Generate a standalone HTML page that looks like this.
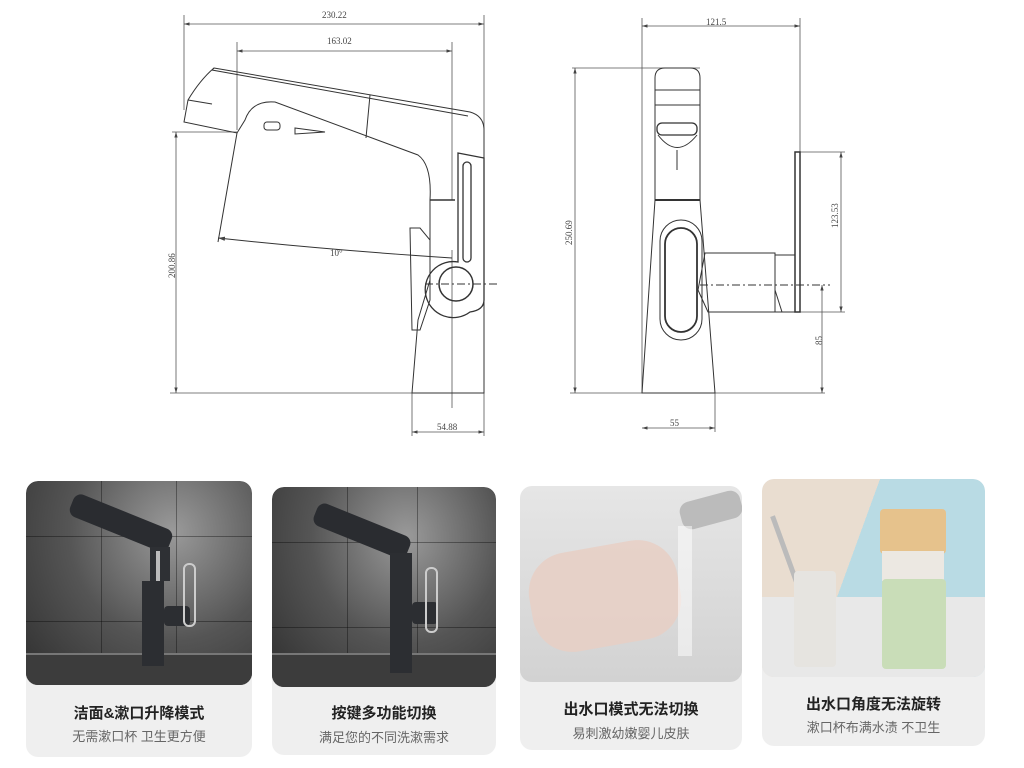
<!DOCTYPE html>
<html><head><meta charset="utf-8"><style>
html,body{margin:0;padding:0;background:#fff;width:1024px;height:768px;overflow:hidden;font-family:"Liberation Sans","Noto Sans CJK SC",sans-serif}
.card{position:absolute;background:#efefef;border-radius:12px;overflow:hidden}
.ph{position:absolute;left:0;top:0;right:0;border-radius:12px;overflow:hidden}
.t{position:absolute;left:0;right:0;text-align:center;font-weight:bold;font-size:15px;color:#222}
.s{position:absolute;left:0;right:0;text-align:center;font-size:13px;color:#666}
.tile{position:absolute;background:rgba(0,0,0,.35)}
</style></head><body>
<svg width="1024" height="460" style="position:absolute;left:0;top:0" fill="none" stroke="#333" stroke-width="1">
<defs><marker id="a" viewBox="0 0 10 10" refX="10" refY="5" markerWidth="7" markerHeight="7" orient="auto-start-reverse"><path d="M0 2 L10 5 L0 8Z" fill="#444" stroke="none"/></marker></defs>
<g font-family="Liberation Serif,serif" font-size="9" fill="#444" stroke="none">
<text x="322" y="18">230.22</text><text x="327" y="44">163.02</text>
<text x="706" y="25">121.5</text><text x="437" y="430">54.88</text><text x="670" y="426">55</text>
<text x="330" y="256">10°</text>
<text transform="translate(175,278) rotate(-90)">200.86</text>
<text transform="translate(572,245) rotate(-90)">250.69</text>
<text transform="translate(838,228) rotate(-90)">123.53</text>
<text transform="translate(822,345) rotate(-90)">85</text>
</g>
<g stroke="#555" stroke-width="0.8">
<line x1="184" y1="15" x2="184" y2="110"/><line x1="484" y1="15" x2="484" y2="130"/>
<line x1="184" y1="24" x2="484" y2="24" marker-start="url(#a)" marker-end="url(#a)"/>
<line x1="237" y1="42" x2="237" y2="130"/><line x1="452" y1="42" x2="452" y2="200"/>
<line x1="237" y1="51" x2="452" y2="51" marker-start="url(#a)" marker-end="url(#a)"/>
<line x1="172" y1="132" x2="237" y2="132"/><line x1="176" y1="132" x2="176" y2="393" marker-start="url(#a)" marker-end="url(#a)"/>
<line x1="170" y1="393" x2="484" y2="393"/>
<line x1="412" y1="393" x2="412" y2="436"/><line x1="484" y1="393" x2="484" y2="436"/>
<line x1="412" y1="432" x2="484" y2="432" marker-start="url(#a)" marker-end="url(#a)"/>
<line x1="452" y1="250" x2="452" y2="408"/>
<line x1="642" y1="18" x2="642" y2="393"/><line x1="800" y1="18" x2="800" y2="152"/>
<line x1="642" y1="26" x2="800" y2="26" marker-start="url(#a)" marker-end="url(#a)"/>
<line x1="572" y1="68" x2="700" y2="68"/><line x1="575" y1="68" x2="575" y2="393" marker-start="url(#a)" marker-end="url(#a)"/>
<line x1="570" y1="393" x2="825" y2="393"/>
<line x1="800" y1="152" x2="845" y2="152"/><line x1="800" y1="312" x2="845" y2="312"/>
<line x1="841" y1="152" x2="841" y2="312" marker-start="url(#a)" marker-end="url(#a)"/>
<line x1="822" y1="285" x2="822" y2="393" marker-start="url(#a)" marker-end="url(#a)"/>
<line x1="715" y1="393" x2="715" y2="432"/><line x1="642" y1="428" x2="715" y2="428" marker-start="url(#a)" marker-end="url(#a)"/>
</g>
<path d="M214 68 L470 112 Q484 116 484 130 L484 393 L412 393 L418 320 L430 280 L430 200 Q432 165 418 155 L275 102 Q252 100 245 120 L237 133 L184 122 L188 100 Q200 80 214 68Z"/>
<path d="M214 68 L212 70 L468 116"/><line x1="370" y1="95" x2="366" y2="138"/>
<line x1="188" y1="100" x2="212" y2="104"/><path d="M237 133 L218 242"/>
<path d="M218 238 Q330 250 452 258" marker-start="url(#a)"/>
<line x1="430" y1="200" x2="455" y2="200" stroke-width="1.5"/>
<path d="M458 153 L484 158 L484 300 Q484 310 470 312 A28 28 0 1 1 458 262 Z" stroke-width="1.3"/>
<circle cx="456" cy="284" r="17" stroke-width="1.5"/>
<rect x="463" y="162" width="8" height="100" rx="4" stroke-width="1.3"/>
<path d="M410 228 L420 228 L430 240 L430 300 L420 330 L412 330 Z"/>
<line x1="425" y1="284" x2="500" y2="284" stroke-dasharray="8,3,2,3"/>
<rect x="264" y="122" width="16" height="8" rx="3"/><path d="M295 128 L325 132 L295 134Z"/>
<path d="M655 78 Q655 68 665 68 L690 68 Q700 68 700 78 L700 200 L715 393 L642 393 L655 200 Z"/>
<line x1="655" y1="90" x2="700" y2="90"/><line x1="655" y1="105" x2="700" y2="105"/>
<line x1="655" y1="200" x2="700" y2="200" stroke-width="2"/>
<rect x="657" y="123" width="40" height="12" rx="5" stroke-width="1.3"/>
<path d="M658 135 Q677 160 697 135"/><line x1="677" y1="150" x2="677" y2="170"/>
<rect x="660" y="220" width="42" height="120" rx="21"/>
<rect x="665" y="228" width="32" height="104" rx="16" stroke-width="1.8"/>
<path d="M705 253 L775 253 L775 312 L708 312 L698 290 Z"/>
<rect x="775" y="255" width="20" height="57"/>
<path d="M775 290 L782 312"/>
<rect x="795" y="152" width="5" height="160" stroke-width="1.5"/>
<line x1="700" y1="285" x2="830" y2="285" stroke-dasharray="8,3,2,3"/>
</svg>

<div class="card" style="left:26px;top:481px;width:226px;height:276px">
<div class="ph" style="height:204px;background:radial-gradient(ellipse at 65% 25%,#9a9a9a,#555 50%,#2e2e2e);">
<div class="tile" style="left:75px;top:0;width:1px;height:180px"></div><div class="tile" style="left:0;top:55px;width:226px;height:1px"></div><div class="tile" style="left:0;top:140px;width:226px;height:1px"></div><div class="tile" style="left:150px;top:0;width:1px;height:180px"></div>
<div style="position:absolute;left:0;right:0;bottom:0;height:30px;background:#3c3c3c;border-top:2px solid #777"></div>
<div style="position:absolute;left:42px;top:30px;width:106px;height:24px;background:#2a2c30;transform:rotate(22deg);border-radius:8px"></div>
<div style="position:absolute;left:124px;top:66px;width:20px;height:34px;background:#2e3034"></div>
<div style="position:absolute;left:130px;top:70px;width:4px;height:32px;background:#bbb"></div>
<div style="position:absolute;left:116px;top:100px;width:22px;height:85px;background:#2c2e32"></div>
<div style="position:absolute;left:138px;top:125px;width:26px;height:20px;background:#2c2e32;border-radius:4px"></div>
<div style="position:absolute;left:157px;top:82px;width:9px;height:60px;border:2px solid #ccc;border-radius:6px"></div>
</div>
<div class="t" style="top:221px">洁面&amp;漱口升降模式</div>
<div class="s" style="top:245px">无需漱口杯 卫生更方便</div>
</div>
<div class="card" style="left:272px;top:487px;width:224px;height:268px">
<div class="ph" style="height:200px;background:radial-gradient(ellipse at 60% 25%,#9a9a9a,#555 50%,#2e2e2e);">
<div class="tile" style="left:75px;top:0;width:1px;height:170px"></div><div class="tile" style="left:0;top:55px;width:224px;height:1px"></div><div class="tile" style="left:0;top:140px;width:224px;height:1px"></div><div class="tile" style="left:145px;top:0;width:1px;height:170px"></div>
<div style="position:absolute;left:0;right:0;bottom:0;height:32px;background:#3c3c3c;border-top:2px solid #777"></div>
<div style="position:absolute;left:40px;top:32px;width:100px;height:24px;background:#2a2c30;transform:rotate(22deg);border-radius:8px"></div>
<div style="position:absolute;left:118px;top:66px;width:22px;height:120px;background:#2c2e32"></div>
<div style="position:absolute;left:140px;top:115px;width:26px;height:22px;background:#2c2e32;border-radius:4px"></div>
<div style="position:absolute;left:153px;top:80px;width:9px;height:62px;border:2px solid #ccc;border-radius:6px"></div>
</div>
<div class="t" style="top:215px">按键多功能切换</div>
<div class="s" style="top:240px">满足您的不同洗漱需求</div>
</div>
<div class="card" style="left:520px;top:486px;width:222px;height:264px">
<div class="ph" style="height:196px;background:linear-gradient(180deg,#e6e6e6,#d2d2d2);">
<div style="position:absolute;left:10px;top:60px;width:150px;height:100px;background:#e8cfc4;border-radius:40px;opacity:.85;transform:rotate(-10deg)"></div>
<div style="position:absolute;left:160px;top:10px;width:62px;height:28px;background:#bbb;border-radius:10px;transform:rotate(-15deg)"></div>
<div style="position:absolute;left:158px;top:40px;width:14px;height:130px;background:rgba(255,255,255,.5)"></div>
</div>
<div class="t" style="top:212px">出水口模式无法切换</div>
<div class="s" style="top:237px">易刺激幼嫩婴儿皮肤</div>
</div>
<div class="card" style="left:762px;top:479px;width:223px;height:267px">
<div class="ph" style="height:198px;background:linear-gradient(110deg,#e9ddd0 40%,#b9dbe4 40%);">
<div style="position:absolute;left:0;right:0;bottom:0;height:80px;background:#e8e8e8"></div>
<div style="position:absolute;left:20px;top:35px;width:5px;height:70px;background:#bbb;transform:rotate(-20deg)"></div>
<div style="position:absolute;left:32px;top:92px;width:42px;height:96px;background:#e6e4e0;border-radius:4px"></div>
<div style="position:absolute;left:118px;top:30px;width:66px;height:45px;background:#e6c28c;border-radius:4px"></div>
<div style="position:absolute;left:120px;top:72px;width:62px;height:30px;background:#ece8e2"></div>
<div style="position:absolute;left:120px;top:100px;width:64px;height:90px;background:#c9ddb8;border-radius:4px"></div>
</div>
<div class="t" style="top:214px">出水口角度无法旋转</div>
<div class="s" style="top:238px">漱口杯布满水渍 不卫生</div>
</div>
</body></html>
